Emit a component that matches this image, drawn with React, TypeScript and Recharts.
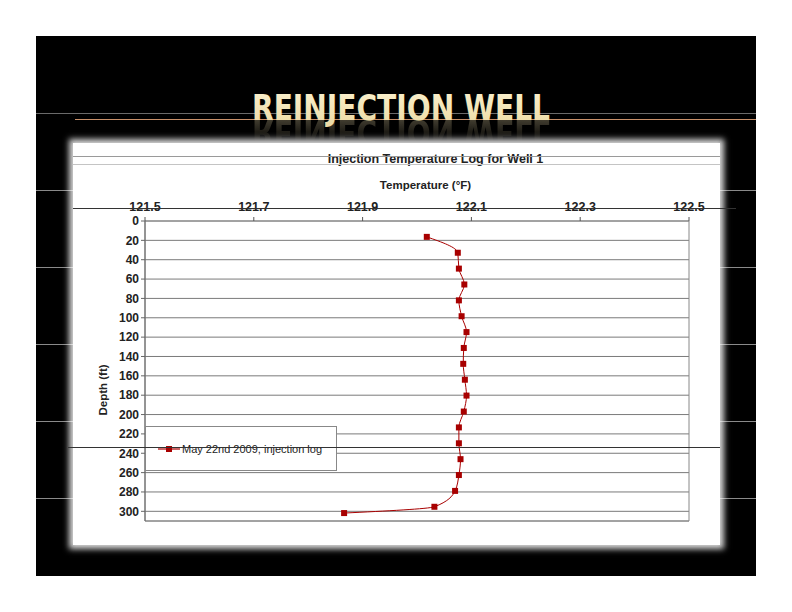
import React from "react";
import { LineChart, Line, XAxis, YAxis, CartesianGrid, Legend, ReferenceArea } from "recharts";

const depths = [16.4, 32.8, 49.2, 65.6, 82.0, 98.4, 114.8, 131.2, 147.6, 164.0, 180.4, 196.9, 213.3, 229.7, 246.1, 262.5, 278.9, 295.3, 301.8];
const temps = [122.018, 122.075, 122.077, 122.087, 122.077, 122.082, 122.091, 122.086, 122.085, 122.088, 122.091, 122.086, 122.077, 122.077, 122.08, 122.077, 122.07, 122.032, 121.866];
const tempTicks = [121.5, 121.7, 121.9, 122.1, 122.3, 122.5];
const depthTicks = [0, 20, 40, 60, 80, 100, 120, 140, 160, 180, 200, 220, 240, 260, 280, 300];
const seriesName = "May 22nd 2009, injection log";

const data = depths.map((d, i) => ({ depth: d, temp: temps[i] }));

const font = "'Liberation Sans', Arial, sans-serif";
const red = "#A80000";

function SquareDot(props: any) {
  const { cx, cy, index } = props;
  if (cx == null || cy == null) return null;
  return <rect key={index} x={cx - 3} y={cy - 3} width={6} height={6} fill={red} />;
}

function LegendBox() {
  return (
    <div style={{ display: "flex", alignItems: "center", height: "100%", paddingLeft: 12, fontFamily: font, fontSize: 11, color: "#222" }}>
      <svg width={22} height={8} style={{ marginRight: 2 }}>
        <line x1={0} y1={4} x2={22} y2={4} stroke={red} strokeWidth={1.2} />
        <rect x={8} y={1} width={6} height={6} fill={red} />
      </svg>
      <span>{seriesName}</span>
    </div>
  );
}

function HLine({ y, x1, x2, color }: { y: number; x1: number; x2: number; color: string }) {
  return <div style={{ position: "absolute", left: x1, top: y, width: x2 - x1, height: 1, background: color }} />;
}

export default function App() {
  return (
    <div style={{ position: "absolute", left: 0, top: 0, width: 792, height: 612, background: "#fff", overflow: "hidden" }}>
      {/* slide background */}
      <div style={{ position: "absolute", left: 36, top: 36, width: 720, height: 540, background: "#000" }} />
      {[190, 267, 344, 421, 498].map((y) => (
        <HLine key={y} y={y} x1={36} x2={756} color="#8a8a8a" />
      ))}
      <HLine y={113} x1={36} x2={756} color="#6a6a6a" />
      <HLine y={119} x1={75} x2={756} color="#c8906a" />

      {/* title */}
      <svg style={{ position: "absolute", left: 0, top: 0 }} width={792} height={150}>
        <defs>
          <linearGradient id="tg" x1="0" y1="0" x2="0" y2="1">
            <stop offset="0" stopColor="#fbf1cf" />
            <stop offset="1" stopColor="#ecd9a2" />
          </linearGradient>
          <linearGradient id="rg" x1="0" y1="0" x2="0" y2="1">
            <stop offset="0" stopColor="#fff" stopOpacity={0.28} />
            <stop offset="1" stopColor="#fff" stopOpacity={0} />
          </linearGradient>
          <mask id="rm">
            <rect x={0} y={120} width={792} height={22} fill="url(#rg)" />
          </mask>
        </defs>
        <text x={252} y={120} textLength={298} lengthAdjust="spacingAndGlyphs" fontFamily="'Liberation Sans Narrow', 'DejaVu Sans Condensed', Arial, sans-serif" fontWeight="bold" fontSize={35} fill="url(#tg)">
          REINJECTION WELL
        </text>
        <g mask="url(#rm)">
          <text x={252} y={-120} transform="scale(1,-1)" textLength={298} lengthAdjust="spacingAndGlyphs" fontFamily="'Liberation Sans Narrow', 'DejaVu Sans Condensed', Arial, sans-serif" fontWeight="bold" fontSize={35} fill="#e8d8a8">
            REINJECTION WELL
          </text>
        </g>
      </svg>

      {/* chart panel */}
      <div
        style={{
          position: "absolute",
          left: 73,
          top: 143,
          width: 647,
          height: 402,
          background: "#fff",
          boxShadow: "0 0 6px 4px rgba(255,255,255,0.85)",
        }}
      >
        <div style={{ position: "absolute", left: 0, width: 647, top: 9, textAlign: "center", paddingLeft: 78, boxSizing: "border-box", fontFamily: font, fontWeight: "bold", fontSize: 12.5, color: "#222" }}>
          Injection Temperature Log for Well 1
        </div>
        <div style={{ position: "absolute", left: 0, width: 647, top: 36, textAlign: "center", paddingLeft: 58, boxSizing: "border-box", fontFamily: font, fontWeight: "bold", fontSize: 11.5, color: "#222" }}>
          Temperature (°F)
        </div>
        <div style={{ position: "absolute", left: 32 - 26, top: 247 - 8, width: 52, height: 16, transform: "rotate(-90deg)", textAlign: "center", fontFamily: font, fontWeight: "bold", fontSize: 11.5, color: "#222" }}>
          Depth (ft)
        </div>
        <LineChart
          width={647}
          height={402}
          data={data}
          layout="vertical"
          margin={{ top: 58, right: 31, bottom: 24, left: 32 }}
        >
          <CartesianGrid vertical={false} stroke="#7a7a7a" />
          <XAxis
            type="number"
            orientation="top"
            dataKey="temp"
            domain={[121.5, 122.5]}
            ticks={tempTicks}
            interval={0}
            tickFormatter={(v: number) => v.toFixed(1)}
            height={20}
            axisLine={false}
            tickLine={{ stroke: "#555" }}
            tickSize={4}
            tickMargin={6}
            tick={{ fontFamily: font, fontWeight: "bold", fontSize: 12.5, fill: "#222" }}
            allowDataOverflow
          />
          <YAxis
            type="number"
            dataKey="depth"
            domain={[0, 310]}
            ticks={depthTicks}
            interval={0}
            width={40}
            axisLine={{ stroke: "#666" }}
            tickLine={{ stroke: "#666" }}
            tickSize={4}
            tick={{ fontFamily: font, fontWeight: "bold", fontSize: 12, fill: "#222" }}
            allowDataOverflow
          />
          <ReferenceArea x1={121.5} x2={122.5} y1={0} y2={310} fill="none" stroke="#888" strokeWidth={1} ifOverflow="visible" />
          <Legend
            layout="horizontal"
            verticalAlign="middle"
            align="center"
            content={() => <LegendBox />}
            wrapperStyle={{ position: "absolute", left: 72, top: 283, width: 192, height: 45, border: "1px solid #888", background: "#fff", boxSizing: "border-box" }}
          />
          <Line
            type="monotone"
            dataKey="temp"
            name={seriesName}
            stroke={red}
            strokeWidth={1}
            dot={<SquareDot />}
            activeDot={false}
            isAnimationActive={false}
          />
        </LineChart>
      </div>

      {/* scan artefact lines over the panel */}
      <HLine y={156} x1={73} x2={720} color="#9a9a9a" />
      <HLine y={164} x1={73} x2={720} color="#c4c4c4" />
      <HLine y={208} x1={73} x2={736} color="#333" />
      <HLine y={447} x1={68} x2={720} color="#333" />
    </div>
  );
}
